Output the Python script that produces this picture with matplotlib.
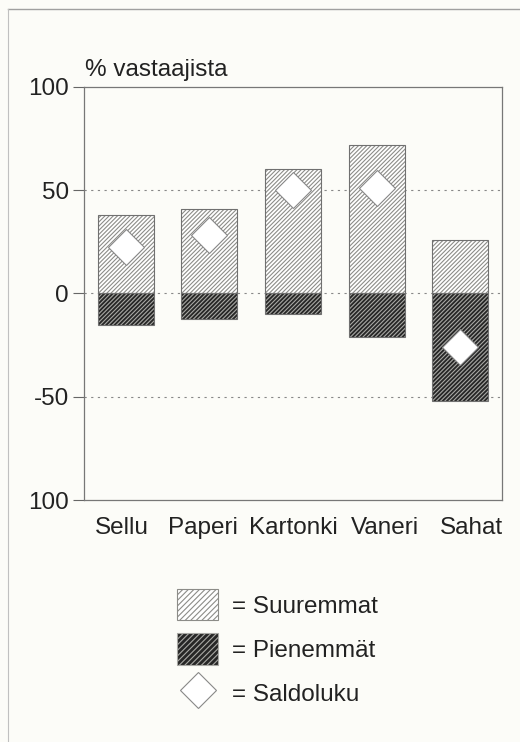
import matplotlib
matplotlib.use("Agg")
import matplotlib.pyplot as plt
import matplotlib.transforms as mtransforms
from matplotlib.patches import Patch
from matplotlib.lines import Line2D
import numpy as np

categories = ["Sellu", "Paperi", "Kartonki", "Vaneri", "Sahat"]
suuremmat = [38, 41, 60, 72, 26]
pienemmat = [-15.5, -12.5, -10, -21, -52]
saldoluku = [22.5, 28.5, 50, 51, -26]
yticks = [-100, -50, 0, 50, 100]
ytick_labels = ["100", "-50", "0", "50", "100"]

plt.rcParams['font.family'] = ['Liberation Sans', 'DejaVu Sans']
plt.rcParams['hatch.linewidth'] = 0.8

FS = 17.5
bg = '#fcfcf8'
fig = plt.figure(figsize=(5.2, 7.42), dpi=100, facecolor=bg)
ax = fig.add_axes([0.1615, 0.326, 0.804, 0.557], facecolor=bg)

x = np.arange(len(categories))
w = 0.67
light_face = '#ffffff'
light_hatch = '#8c8c88'
dark_face = '#262626'
dark_hatch = '#a8a8a4'
edge = '#707070'
H = '////////'

ax.bar(x, suuremmat, width=w, color=light_face, edgecolor=light_hatch, hatch=H, linewidth=0, zorder=2)
ax.bar(x, pienemmat, width=w, color=dark_face, edgecolor=dark_hatch, hatch=H, linewidth=0, zorder=2)
ax.bar(x, suuremmat, width=w, fill=False, edgecolor=edge, linewidth=0.8, zorder=3)
ax.bar(x, pienemmat, width=w, fill=False, edgecolor=edge, linewidth=0.8, zorder=3)
ax.plot(x, saldoluku, linestyle='none', marker='D', markersize=18, markerfacecolor='white',
        markeredgecolor='#888888', markeredgewidth=0.8, zorder=4)

for yv in [50, 0, -50]:
    ax.axhline(yv, color='#888888', linestyle=(0, (2, 4)), linewidth=0.8, zorder=1)

ax.set_xlim(-0.5, 4.5)
ax.set_ylim(-100, 100)
ax.set_yticks(yticks)
ax.set_yticklabels(ytick_labels, fontsize=FS)
ax.set_xticks(x)
ax.set_xticklabels(categories, fontsize=FS)
ax.tick_params(axis='x', length=0, pad=12, colors='#222222')
ax.tick_params(axis='y', length=8, width=0.8, color='#666666', pad=3, labelcolor='#222222')
for s in ax.spines.values():
    s.set_color('#777777')
    s.set_linewidth(0.9)

# the original spreads category labels slightly wider than the bars
label_shift_px = [-3.5, -6.5, 0, 8, 11.5]
for lab, dx in zip(ax.get_xticklabels(), label_shift_px):
    lab.set_transform(lab.get_transform() + mtransforms.ScaledTranslation(dx / 100, 0, fig.dpi_scale_trans))

fig.text(0.163, 0.906, "% vastaajista", fontsize=FS, color='#222222', va='center', ha='left')

# page border (top and left)
fig.add_artist(Line2D([8/520, 1], [1 - 9/742, 1 - 9/742], transform=fig.transFigure, color='#a0a0a0', linewidth=1.0))
fig.add_artist(Line2D([8/520, 8/520], [0, 1 - 9/742], transform=fig.transFigure, color='#c0c0c0', linewidth=0.8))

handles = [
    Patch(facecolor=light_face, edgecolor=light_hatch, hatch='//////', linewidth=0.8),
    Patch(facecolor=dark_face, edgecolor=dark_hatch, hatch='//////', linewidth=0.8),
    Line2D([], [], linestyle='none', marker='D', markersize=18, markerfacecolor='white',
           markeredgecolor='#888888', markeredgewidth=0.8),
]
labels = ["= Suuremmat", "= Pienemmät", "= Saldoluku"]
fig.legend(handles, labels, loc='upper left', bbox_to_anchor=(177/520, 1 - 589/742), frameon=False,
           fontsize=FS, handlelength=1.7, handleheight=1.59, labelspacing=0.55, handletextpad=0.55,
           borderpad=0, borderaxespad=0, labelcolor='#222222')

fig.savefig("out.png", dpi=100, facecolor=bg)
